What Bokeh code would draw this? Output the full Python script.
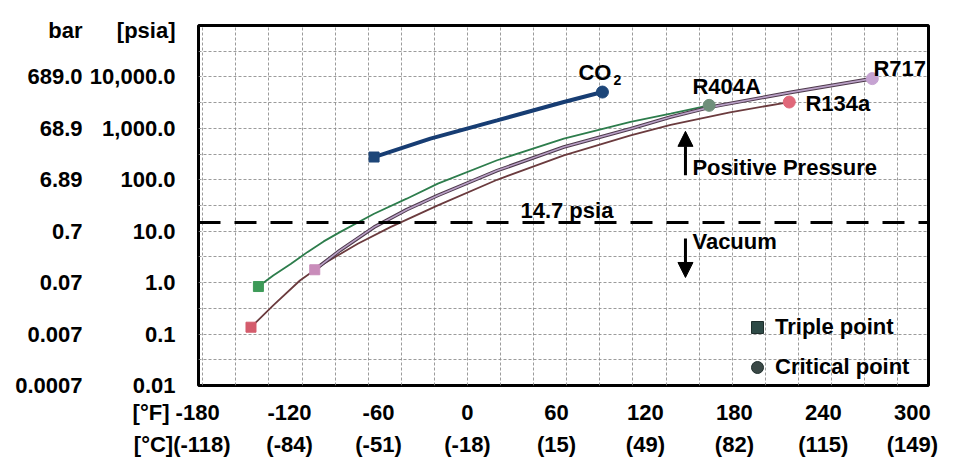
import numpy as np
from bokeh.plotting import figure
from bokeh.models import (Range1d, FixedTicker, LogAxis, LinearAxis, Label, Span, Arrow,
                          NormalHead, Legend, LegendItem)
from bokeh.embed import file_html
from bokeh.resources import INLINE

# ---------------- data ----------------
co2_f = [-63, -25, 20, 65, 91]
co2_p = [277, 631, 1430, 3250, 5080]

r404a_f = [-141, -131, -119, -108, -97, -86, -63, -41, -20, 20, 65, 110, 137, 163]
r404a_p = [0.84, 1.38, 2.33, 3.92, 6.34, 9.6, 21.9, 42.9, 84, 240, 631, 1330, 1930, 2800]

r717_f = [-103, -86, -63, -41, -20, 20, 65, 110, 137, 164, 218, 273]
r717_p = [1.78, 4.23, 12.0, 26.2, 49.7, 151, 433, 986, 1660, 2590, 5010, 9270]

r134a_f = [-146, -131, -113, -97, -74, -52, -20, 20, 65, 110, 137, 177, 217]
r134a_p = [0.136, 0.36, 1.10, 2.33, 5.71, 12.0, 31.8, 100, 299, 731, 1170, 2050, 3250]

atm_psia = 14.7

y_ticks = [0.01, 0.1, 1.0, 10.0, 100.0, 1000.0, 10000.0]
psia_labels = ["0.01", "0.1", "1.0", "10.0", "100.0", "1,000.0", "10,000.0"]
bar_labels = ["0.0007", "0.007", "0.07", "0.7", "6.89", "68.9", "689.0"]
psia_header = "[psia]"
bar_header = "bar"

f_ticks = [-180, -120, -60, 0, 60, 120, 180, 240, 300]
f_labels = ["[°F] -180", "-120", "-60", "0", "60", "120", "180", "240", "300"]
c_labels = ["[°C](-118)", "(-84)", "(-51)", "(-18)", "(15)", "(49)", "(82)", "(115)", "(149)"]

FONT = "Liberation Sans"
W, H = 959, 472
NB = "\u00a0"

p = figure(width=W, height=H, y_axis_type="log",
           x_range=Range1d(-181.4, 310.9), y_range=Range1d(0.01, 1e5),
           output_backend="svg", toolbar_location=None,
           min_border_left=198, min_border_right=31,
           min_border_top=25, min_border_bottom=87)
p.background_fill_color = "white"
p.border_fill_color = "white"
p.outline_line_color = "black"
p.outline_line_width = 3

# grid
p.xgrid.ticker = FixedTicker(ticks=list(np.arange(-8, 15) * 22.32))
p.ygrid.ticker = FixedTicker(ticks=list(10.0 ** (np.arange(-4, 11) / 2)))
for g in (p.xgrid[0], p.ygrid[0]):
    g.grid_line_color = "#8a8a8a"
    g.grid_line_dash = "3 2"
    g.grid_line_width = 1
    g.grid_line_alpha = 0.85

def style_axis(ax, ticks, labels, standoff):
    ax.ticker = FixedTicker(ticks=ticks)
    ax.major_label_overrides = dict(zip(ticks, labels))
    ax.axis_line_color = None
    ax.major_tick_line_color = None
    ax.minor_tick_line_color = None
    ax.major_tick_out = 0
    ax.major_tick_in = 0
    ax.major_label_standoff = standoff
    ax.major_label_text_font = FONT
    ax.major_label_text_font_style = "bold"
    ax.major_label_text_font_size = "22px"
    ax.major_label_text_color = "black"

# header row sits just above the top of the frame, at the height of the
# axis column titles in the reference
header_pos = 10 ** 4.907

# y axes: psia (inner) and bar (outer); the column titles are drawn as top labels
style_axis(p.yaxis[0], y_ticks + [header_pos], psia_labels + [psia_header], 23)
bar_ax = LogAxis()
style_axis(bar_ax, y_ticks + [header_pos], bar_labels + [bar_header], 4)
p.add_layout(bar_ax, "left")

# x axes: degF (inner) and degC (outer); the unit-tagged first labels are
# padded on the right so that they extend to the left of their tick, as in the reference
f_disp = [f_labels[0] + NB * 8] + f_labels[1:]
c_disp = [c_labels[0] + NB * 6] + c_labels[1:]
style_axis(p.xaxis[0], f_ticks, f_disp, 14)
c_ax = LinearAxis()
style_axis(c_ax, f_ticks, c_disp, 4)
p.add_layout(c_ax, "below")

# curves
p.line(r404a_f, r404a_p, color="#2d7d4c", line_width=1.8)
p.line(r134a_f, r134a_p, color="#6b3b3e", line_width=1.8)
p.line(r717_f, r717_p, color="#4e3a4c", line_width=3.6)
p.line(r717_f, r717_p, color="#b9a0c6", line_width=1.6)
p.line(co2_f, co2_p, color="#173d73", line_width=4)

# triple points (first value) and critical points (last value)
series = [
    (co2_f, co2_p, "#1d4679", "#1d4679"),
    (r404a_f, r404a_p, "#3d9a58", "#6f8f7a"),
    (r134a_f, r134a_p, "#d45c6c", "#e0687a"),
    (r717_f, r717_p, "#c98cba", "#c6a3d2"),
]
for fx, py, c_tp, c_cp in series:
    p.scatter([fx[0]], [py[0]], marker="square", size=10,
              fill_color=c_tp, line_color=c_tp)
    p.scatter([fx[-1]], [py[-1]], marker="circle", size=12,
              fill_color=c_cp, line_color=c_cp)

# 14.7 psia line
p.add_layout(Span(location=atm_psia, dimension="width", line_color="black",
                  line_width=3, line_dash="22 14"))

def lab(x, y, text, size="22px", align="left", baseline="middle", **kw):
    return Label(x=x, y=y, text=text, text_font=FONT, text_font_style="bold",
                 text_font_size=size, text_align=align, text_baseline=baseline,
                 text_color="black", **kw)

# curve names
p.add_layout(lab(74.8, 12270, "CO"))
p.add_layout(lab(98.4, 8590, "2", size="14px"))
p.add_layout(lab(151.7, 6560, "R404A"))
p.add_layout(lab(273.8, 14690, "R717"))
p.add_layout(lab(227.9, 3060, "R134a"))
p.add_layout(lab(151.7, 174, "Positive Pressure"))
p.add_layout(lab(151.7, 6.34, "Vacuum"))
p.add_layout(lab(35.7, 25.4, "14.7 psia"))

# arrows
p.add_layout(Arrow(end=NormalHead(size=15, fill_color="black", line_color="black"),
                   x_start=147, y_start=122, x_end=147, y_end=875,
                   line_width=3, line_color="black"))
p.add_layout(Arrow(end=NormalHead(size=15, fill_color="black", line_color="black"),
                   x_start=147, y_start=7.24, x_end=147, y_end=1.26,
                   line_width=3, line_color="black"))

# legend
nan = float("nan")
leg_tp = p.scatter(x=[nan], y=[nan], marker="square", fill_color="#2e4a46", line_color="#1f2f2d")
leg_cp = p.scatter(x=[nan], y=[nan], marker="circle", fill_color="#3a4846", line_color="#1f2f2d")
legend = Legend(items=[LegendItem(label="Triple point", renderers=[leg_tp]),
                       LegendItem(label="Critical point", renderers=[leg_cp])],
                location=(541, 0), glyph_width=30, glyph_height=30,
                label_height=30, label_standoff=3, spacing=10, padding=3, margin=0,
                background_fill_alpha=0, border_line_alpha=0,
                label_text_font=FONT, label_text_font_style="bold",
                label_text_font_size="22px", label_text_color="black")
p.add_layout(legend)

open("out.html", "w").write(file_html(p, INLINE))
